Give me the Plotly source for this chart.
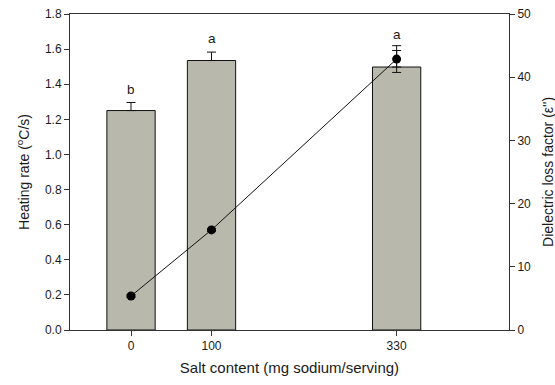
import plotly.graph_objects as go

salt = [0, 100, 330]
heating_rate = [1.25, 1.535, 1.498]
heating_err = [0.046, 0.048, 0.094]
loss_factor = [5.38, 15.84, 42.87]
loss_err = [0.2, 0.2, 2.12]
letters = ["b", "a", "a"]
letter_y = [1.372, 1.659, 1.682]

FONT = "Liberation Sans, Arial, sans-serif"
TXT = "#1a1a1a"
AX = "#333333"

fig = go.Figure()
fig.add_trace(go.Bar(
    x=salt, y=heating_rate, width=60,
    marker=dict(color="#b8b8ac", line=dict(color="#111111", width=1)),
    error_y=dict(type="data", array=heating_err, arrayminus=[0, 0, 0], symmetric=False,
                 color="#111111", thickness=1, width=4.5),
    yaxis="y", showlegend=False,
))
fig.add_trace(go.Scatter(
    x=salt, y=loss_factor, mode="lines+markers",
    line=dict(color="#111111", width=1),
    marker=dict(color="#000000", size=9),
    error_y=dict(type="data", array=loss_err, color="#111111", thickness=1, width=4.5),
    yaxis="y2", showlegend=False,
))
for xv, yv, t in zip(salt, letter_y, letters):
    fig.add_annotation(x=xv, y=yv, xref="x", yref="y", text=t, showarrow=False,
                       font=dict(family=FONT, size=13.5, color=TXT))

fig.add_annotation(x=1.0888, y=0.5, xref="paper", yref="paper", xanchor="center", yanchor="middle",
                   text="Dielectric loss factor (ε'')", textangle=-90, showarrow=False,
                   font=dict(family=FONT, size=14, color=TXT))

fig.update_layout(
    width=555, height=385,
    margin=dict(l=70, r=46, t=14, b=55),
    paper_bgcolor="white", plot_bgcolor="white",
    font=dict(family=FONT, size=12, color=TXT),
    xaxis=dict(range=[-75.8, 469.6], tickvals=salt, ticktext=[str(s) for s in salt],
               showgrid=False, zeroline=False, showline=True, linecolor=AX, linewidth=1,
               mirror=True, ticks="outside", ticklen=5, tickcolor=AX, automargin=False,
               title=dict(text="Salt content (mg sodium/serving)", font=dict(size=15), standoff=10)),
    yaxis=dict(range=[0, 1.8], dtick=0.2, tickformat=".1f", showgrid=False, zeroline=False,
               showline=True, linecolor=AX, linewidth=1, ticks="outside", ticklen=5, tickcolor=AX,
               automargin=False,
               title=dict(text="Heating rate (<sup>o</sup>C/s)", font=dict(size=14), standoff=12)),
    yaxis2=dict(range=[0, 50], dtick=10, overlaying="y", side="right", showgrid=False,
                zeroline=False, showline=True, linecolor=AX, linewidth=1, ticks="outside",
                ticklen=5, tickcolor=AX, automargin=False),
)
fig.write_html("out.html")
